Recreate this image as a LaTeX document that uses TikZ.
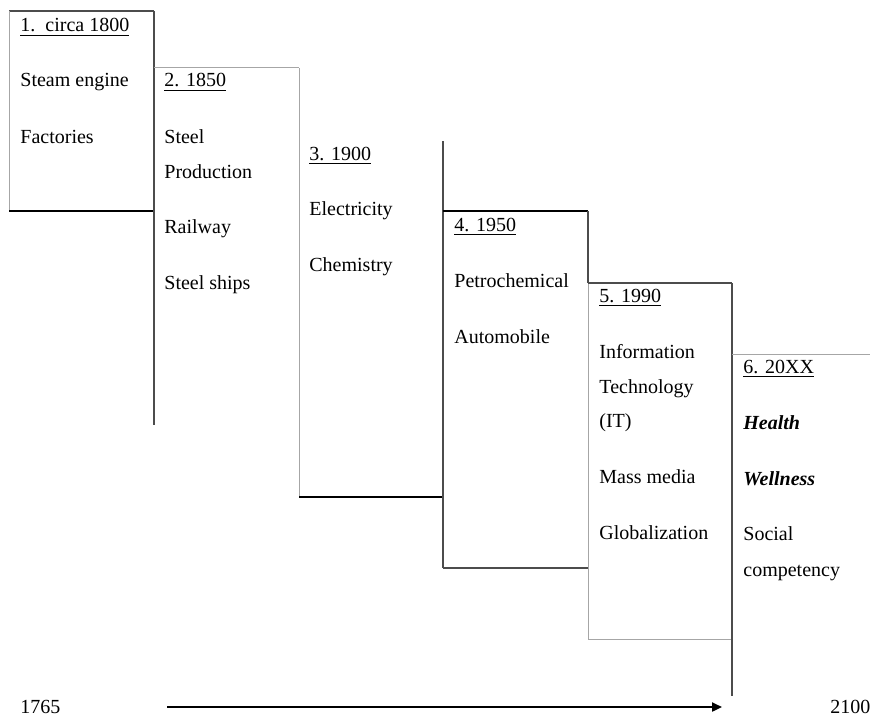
\documentclass[tikz,border=0pt]{standalone}
\usepackage{fontspec}
\setmainfont{Liberation Serif}
\usetikzlibrary{arrows.meta}
\begin{document}
\begin{tikzpicture}[x=0.5pt,y=-0.5pt,
  txt/.style={anchor=base west,inner sep=0pt,font=\fontsize{10}{12}\selectfont},
  dark/.style={draw=black!70,line width=0.7pt},
  light/.style={draw=black!35,line width=0.5pt},
  heavy/.style={draw=black,line width=1pt},
  timearrow/.style={draw=black,line width=1.1pt,-{Triangle[length=5pt,width=4.5pt]}}]
\useasboundingbox (0,0) rectangle (870,717);
% staircase lines
\draw[dark] (9,11) -- (154,11);
\draw[light] (9,11) -- (9,211);
\draw[heavy] (9,211) -- (154,211);
\draw[dark] (154,11) -- (154,425);
\draw[light] (154,68) -- (299,68);
\draw[light] (299,68) -- (299,497);
\draw[heavy] (299,497) -- (443,497);
\draw[dark] (443,141) -- (443,568);
\draw[heavy] (443,211) -- (588,211);
\draw[dark] (443,568) -- (588,568);
\draw[dark] (588,211) -- (588,283);
\draw[light] (588,283) -- (588,639);
\draw[dark] (588,283) -- (732,283);
\draw[light] (588,639) -- (732,639);
\draw[dark] (732,283) -- (732,696);
\draw[light] (732,354) -- (870,354);
% column 1
\node[txt] (h1) at (20,32) {\underline{1.\ \ circa 1800}};
\node[txt] (a1) at (20,87) {Steam engine};
\node[txt] (b1) at (20,143) {Factories};
% column 2
\node[txt] (h2) at (164,87) {\underline{2. 1850}};
\node[txt] (a2) at (164,143) {Steel};
\node[txt] (a2b) at (164,178) {Production};
\node[txt] (b2) at (164,233) {Railway};
\node[txt] (c2) at (164,289) {Steel ships};
% column 3
\node[txt] (h3) at (309,160) {\underline{3. 1900}};
\node[txt] (a3) at (309,215) {Electricity};
\node[txt] (b3) at (309,271) {Chemistry};
% column 4
\node[txt] (h4) at (454,231) {\underline{4. 1950}};
\node[txt] (a4) at (454,287) {Petrochemical};
\node[txt] (b4) at (454,343) {Automobile};
% column 5
\node[txt] (h5) at (599,302) {\underline{5. 1990}};
\node[txt] (a5) at (599,358) {Information};
\node[txt] (a5b) at (599,393) {Technology};
\node[txt] (a5c) at (599,427) {(IT)};
\node[txt] (b5) at (599,483) {Mass media};
\node[txt] (c5) at (599,539) {Globalization};
% column 6
\node[txt] (h6) at (743,373) {\underline{6. 20XX}};
\node[txt] (a6) at (743,429) {\textbf{\textit{Health}}};
\node[txt] (b6) at (743,485) {\textbf{\textit{Wellness}}};
\node[txt] (c6) at (743,540) {Social};
\node[txt] (c6b) at (743,576) {competency};
% time axis
\node[txt] (start) at (20,713) {1765};
\node[txt] (end) at (830,713) {2100};
\coordinate (arrA) at (167,707);
\coordinate (arrB) at (722,707);
\draw[timearrow] (arrA) -- (arrB);
\end{tikzpicture}
\end{document}
